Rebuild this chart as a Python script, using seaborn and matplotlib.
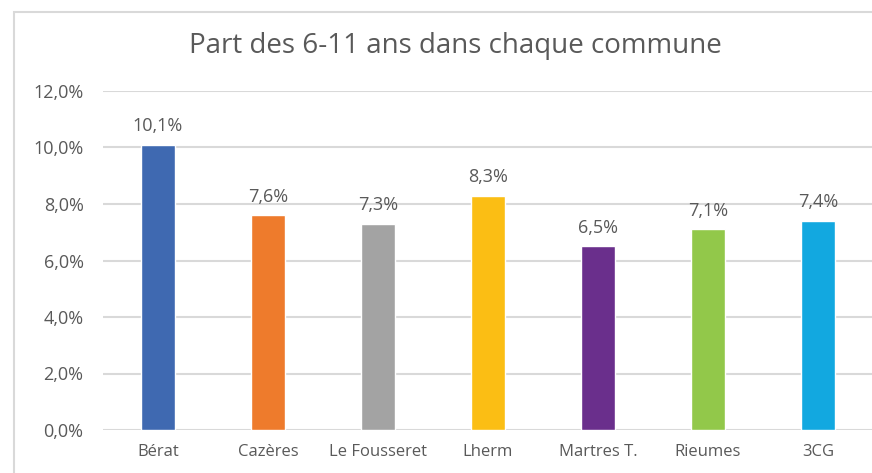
import matplotlib
matplotlib.use("Agg")
import matplotlib.pyplot as plt
from matplotlib.patches import Rectangle
from matplotlib.ticker import FuncFormatter
import seaborn as sns
import pandas as pd

communes = ["Bérat", "Cazères", "Le Fousseret", "Lherm", "Martres T.", "Rieumes", "3CG"]
parts = [10.1, 7.6, 7.3, 8.3, 6.5, 7.1, 7.4]
couleurs = ["#3F69B1", "#EE7B2C", "#A3A3A3", "#FBBE14", "#6A2F8C", "#92C84A", "#12A8E0"]
title = "Part des 6-11 ans dans chaque commune"

sns.set_theme(style="white")
plt.rcParams["font.family"] = ["Open Sans", "DejaVu Sans"]
txt = "#595959"
grid = "#D9D9D9"

df = pd.DataFrame({"commune": communes, "part": parts})

fig = plt.figure(figsize=(8.72, 4.73), dpi=100)
ax = fig.add_axes([103 / 872, 1 - 430 / 473, 770 / 872, (430 - 91) / 473])

sns.barplot(data=df, x="commune", y="part", hue="commune", palette=couleurs,
            width=0.31, legend=False, ax=ax, saturation=1)

ax.set_xlim(-0.5, 6.5)
ax.set_ylim(0, 12)
ax.set_yticks([0, 2, 4, 6, 8, 10, 12])
ax.yaxis.set_major_formatter(FuncFormatter(lambda v, p: f"{v:.1f}%".replace(".", ",")))
ax.grid(axis="y", color=grid, linewidth=1.5)
ax.set_axisbelow(True)
for s in ax.spines.values():
    s.set_visible(False)
ax.set_xlabel("")
ax.set_ylabel("")
ax.tick_params(axis="both", length=0, colors=txt)
ax.tick_params(axis="y", pad=14, labelsize=13)
ax.tick_params(axis="x", pad=10, labelsize=12)

for i, v in enumerate(parts):
    ax.annotate(f"{v:.1f}%".replace(".", ","), (i, v), xytext=(0, 7),
                textcoords="offset points", ha="center", va="bottom",
                color=txt, fontsize=13)

fig.text(455 / 872, 1 - 46 / 473, title, ha="center", va="center",
         color=txt, fontsize=20)

fig.patches.append(Rectangle((14 / 872, -0.1), 1.2, 1 - 12 / 473 + 0.1,
                             transform=fig.transFigure, fill=False,
                             edgecolor=grid, linewidth=1.5))

fig.savefig("out.png", dpi=100, facecolor="white")
